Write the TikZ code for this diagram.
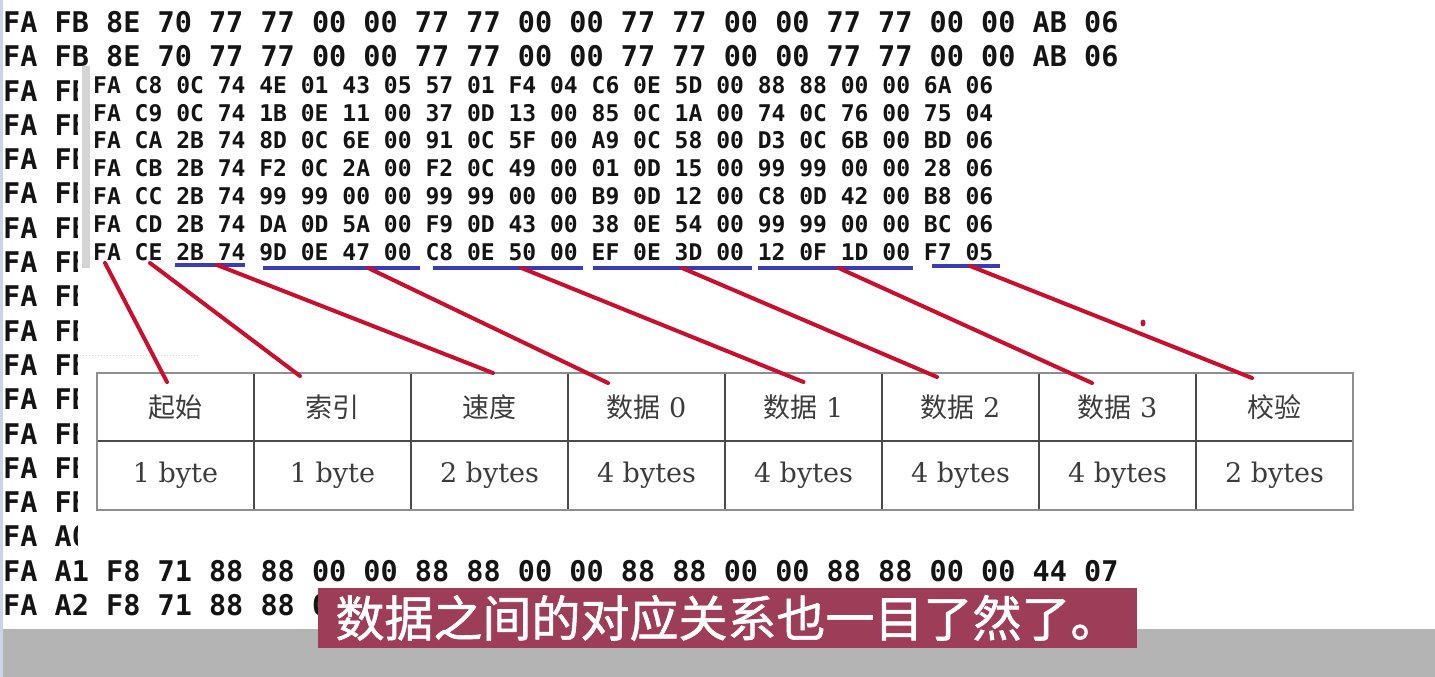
\documentclass[tikz,border=0pt]{standalone}
\usepackage{fontspec}
\setmainfont{DejaVu Serif}
\newfontfamily\cjk{Noto Sans CJK SC}
\newfontfamily\cjkfat{Noto Sans CJK SC}[FakeBold=1.2]
\newfontfamily\hexfont{DejaVu Sans Mono}
\usetikzlibrary{calc,positioning}
\definecolor{ink}{HTML}{141414}
\definecolor{cellink}{HTML}{3C3C3C}
\definecolor{frame}{HTML}{8E8E8E}
\definecolor{rule}{HTML}{4A4A4A}
\definecolor{pen}{HTML}{C8102E}
\definecolor{marker}{HTML}{3B3BB3}
\definecolor{banner}{HTML}{9E3D57}
\definecolor{band}{HTML}{B4B4B4}
\definecolor{edge}{HTML}{D4D4D4}
\definecolor{border}{HTML}{C9D5E2}
\tikzset{
  hexrow/.style={anchor=west, inner sep=0pt, text=ink, font=\hexfont\bfseries\fontsize{28.5}{30}\selectfont},
  hexinner/.style={hexrow, font=\hexfont\bfseries\fontsize{23}{26}\selectfont},
  head/.style={draw=rule, line width=1.2pt, outer sep=0pt, minimum width=157pt, minimum height=68pt, inner sep=0pt, text=cellink, font=\fontsize{27}{30}\selectfont},
  sizecell/.style={head, minimum height=69pt},
  link/.style={draw=pen, line width=4pt, line cap=round},
  underline/.style={draw=marker, line width=4pt},
  caption/.style={fill=banner, text=white, inner sep=0pt, minimum width=819pt, minimum height=60pt, font=\cjkfat\fontsize{49}{52}\selectfont}
}
\begin{document}
\begin{tikzpicture}[x=1pt,y=-1pt]
\useasboundingbox (0,0) rectangle (1435,677);
\fill[white] (0,0) rectangle (1435,677);
\fill[band] (0,629) rectangle (1435,677);
\fill[border] (0,0) rectangle (3,677);
% dump in the background
\node[hexrow] (row0) at (3,22) {FA FB 8E 70 77 77 00 00 77 77 00 00 77 77 00 00 77 77 00 00 AB 06};
\node[hexrow] (row1) at (3,56.3) {FA FB 8E 70 77 77 00 00 77 77 00 00 77 77 00 00 77 77 00 00 AB 06};
\foreach \k in {2,...,14} \node[hexrow] (row\k) at (3,22+34.3*\k) {FA FB};
\node[hexrow] (row15) at (3,536.5) {FA A0};
\node[hexrow] (row16) at (3,570.8) {FA A1 F8 71 88 88 00 00 88 88 00 00 88 88 00 00 88 88 00 00 44 07};
\node[hexrow] (row17) at (3,605.1) {FA A2 F8 71 88 88 00};
% pasted panel
\fill[white] (78,68) rectangle (1365,553);
\fill[edge] (82,66) rectangle (90,268);
\draw[edge, dotted, line width=1pt] (80,355) -- (200,355);
\foreach \line [count=\i] in {
  FA C8 0C 74 4E 01 43 05 57 01 F4 04 C6 0E 5D 00 88 88 00 00 6A 06,
  FA C9 0C 74 1B 0E 11 00 37 0D 13 00 85 0C 1A 00 74 0C 76 00 75 04,
  FA CA 2B 74 8D 0C 6E 00 91 0C 5F 00 A9 0C 58 00 D3 0C 6B 00 BD 06,
  FA CB 2B 74 F2 0C 2A 00 F2 0C 49 00 01 0D 15 00 99 99 00 00 28 06,
  FA CC 2B 74 99 99 00 00 99 99 00 00 B9 0D 12 00 C8 0D 42 00 B8 06,
  FA CD 2B 74 DA 0D 5A 00 F9 0D 43 00 38 0E 54 00 99 99 00 00 BC 06,
  FA CE 2B 74 9D 0E 47 00 C8 0E 50 00 EF 0E 3D 00 12 0F 1D 00 F7 05}
  \node[hexinner] (frm\i) at (93,85+27.8*\i-27.8) {\line};
\foreach \a/\b/\y [count=\j] in {175/245/265, 263/420/268, 433/583/268, 593/752/268, 758/913/268, 932/1000/266} {
  \coordinate (ua\j) at (\a,\y); \coordinate (ub\j) at (\b,\y);
  \draw[underline] (ua\j) -- (ub\j);
}
% field table
\foreach \hd/\sz [count=\i] in {{\cjk 起始}/1 byte, {\cjk 索引}/1 byte, {\cjk 速度}/2 bytes, {\cjk 数据} 0/4 bytes,
  {\cjk 数据} 1/4 bytes, {\cjk 数据} 2/4 bytes, {\cjk 数据} 3/4 bytes, {\cjk 校验}/2 bytes} {
  \node[head] (hd\i) at (97+157*\i-78.5,407) {\hd};
  \node[sizecell, below=0pt of hd\i] (sz\i) {\sz};
}
\draw[frame, line width=2pt] (hd1.north west) rectangle (sz8.south east);
% links from bytes to fields
\coordinate (s1) at (105,263);
\coordinate (s2) at (150,263);
\coordinate (s3) at ($(ua1)!0.6!(ub1)$);
\coordinate (s4) at ($(ua2)!0.67!(ub2)$);
\coordinate (s5) at ($(ua3)!0.59!(ub3)$);
\coordinate (s6) at ($(ua4)!0.56!(ub4)$);
\coordinate (s7) at ($(ua5)!0.52!(ub5)$);
\coordinate (s8) at ($(ua6)!0.56!(ub6)$);
\foreach \dx/\dy [count=\i] in {-8.5/9, -32.5/3, 3.5/0, -38.5/10, 0/9, -23.5/4, -25.5/10, -22.5/5}
  \draw[link] (s\i) -- ($(hd\i.north)+(\dx,\dy)$);
\fill[pen] (1143,323) ellipse (2.5 and 3.5);
\node[caption] (cap) at (727.5,618) {数据之间的对应关系也一目了然了。};
\end{tikzpicture}
\end{document}
